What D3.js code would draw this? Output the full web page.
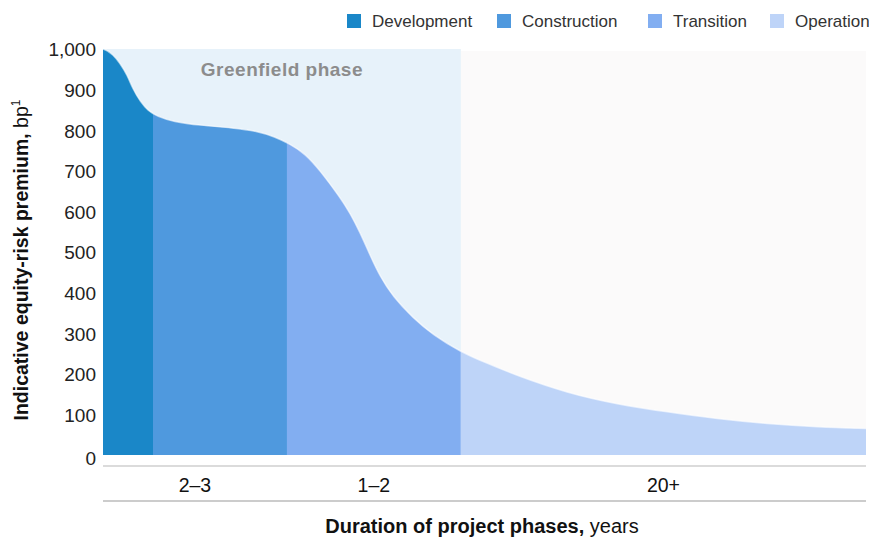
<!DOCTYPE html>
<html>
<head>
<meta charset="utf-8">
<script src="https://cdn.jsdelivr.net/npm/d3@7"></script>
<style>
  html, body { margin: 0; padding: 0; background: #ffffff; }
  svg { display: block; font-family: "Liberation Sans", Arial, Helvetica, sans-serif; }
</style>
</head>
<body>
<svg id="chart" width="869" height="540"></svg>
<script>
// ---------- data ----------
// position along the project timeline (share of chart width, 0–100)
const curveX = [0, 0.5, 1.3, 2.2, 3.2, 3.9, 4.9, 5.9, 7.1, 9.2, 12.7, 17.0, 20.2, 22.5, 24.5, 26.5, 28.4, 31.1, 32.4, 33.7, 35.0, 36.3, 38.0, 40.6, 43.3, 46.9, 49.8, 54.3, 60.8, 67.4, 73.9, 80.5, 87.0, 93.6, 100];
// indicative equity-risk premium, bp
const premium = [1000, 997, 986, 966, 935, 902, 870, 848, 834, 821, 812, 806, 798, 784, 766, 742, 702, 634, 595, 548, 492, 440, 390, 338, 295, 254, 230, 195, 153, 125, 106, 89, 77, 69, 65];

const phases = ["Development", "Construction", "Transition", "Operation"];
const phaseStart = [0, 6.55, 24.1, 46.9];
const phaseEnd = [6.55, 24.1, 46.9, 100];

const durationLabels = ["2–3", "1–2", "20+"];
const durationStart = [0, 24.1, 46.9];
const durationEnd = [24.1, 46.9, 100];

const yTicks = [0, 100, 200, 300, 400, 500, 600, 700, 800, 900, 1000];
const greenfieldLabel = "Greenfield phase";

// ---------- styles ----------
const phaseColors = ["#1a87c8", "#4f99de", "#82aef1", "#bed4f8"];

// ---------- layout ----------
const svg = d3.select("#chart");
const mLeft = 103, mRight = 866, mTop = 49, mBottom = 455;

const x = d3.scaleLinear().domain([0, 100]).range([mLeft, mRight]);
const y = d3.scaleLinear().domain([0, 1000]).range([mBottom, mTop]);

const pts = curveX.map((d, i) => ({ x: d, v: premium[i] }));

// backgrounds
svg.append("rect")
  .attr("x", x(phaseStart[3])).attr("y", mTop + 2)
  .attr("width", x(100) - x(phaseStart[3])).attr("height", mBottom - mTop - 2)
  .attr("fill", "#fbfafa");
svg.append("rect")
  .attr("x", x(0)).attr("y", mTop)
  .attr("width", x(phaseStart[3]) - x(0)).attr("height", mBottom - mTop)
  .attr("fill", "#e7f2fa");

// clip paths per phase
const defs = svg.append("defs");
phases.forEach((p, i) => {
  defs.append("clipPath").attr("id", "clip" + i)
    .append("rect")
    .attr("x", x(phaseStart[i])).attr("y", 0)
    .attr("width", x(phaseEnd[i]) - x(phaseStart[i]))
    .attr("height", 540);
});

const area = d3.area()
  .x(d => x(d.x))
  .y0(y(0))
  .y1(d => y(d.v))
  .curve(d3.curveBasis);

const line = d3.line()
  .x(d => x(d.x))
  .y(d => y(d.v))
  .curve(d3.curveBasis);

phases.forEach((p, i) => {
  svg.append("path")
    .datum(pts)
    .attr("clip-path", "url(#clip" + i + ")")
    .attr("d", area)
    .attr("fill", phaseColors[i]);
});

// subtle light edge along the curve
svg.append("path")
  .datum(pts)
  .attr("d", line)
  .attr("fill", "none")
  .attr("stroke", "#ffffff")
  .attr("stroke-opacity", 0.6)
  .attr("stroke-width", 1.5);

// greenfield label
svg.append("text")
  .attr("x", (x(0) + x(phaseStart[3])) / 2)
  .attr("y", 76)
  .attr("text-anchor", "middle")
  .attr("font-size", 19)
  .attr("font-weight", "bold")
  .attr("letter-spacing", 0.5)
  .attr("fill", "#8c8c8c")
  .text(greenfieldLabel);

// y axis
const yAxis = d3.axisLeft(y)
  .tickValues(yTicks)
  .tickSize(0)
  .tickPadding(7)
  .tickFormat(d3.format(","));
const gy = svg.append("g")
  .attr("transform", `translate(${mLeft},0)`)
  .call(yAxis);
gy.select(".domain").remove();
gy.selectAll("text")
  .attr("font-size", 19)
  .attr("fill", "#222")
  .attr("font-family", "'Liberation Sans', Arial, sans-serif")
  .attr("dy", "0.36em");
gy.selectAll(".tick").filter(d => d === 0).select("text").attr("dy", "0.5em");

// y axis title
const yt = svg.append("text")
  .attr("transform", `translate(28, ${(mTop + mBottom) / 2 + 8}) rotate(-90)`)
  .attr("text-anchor", "middle")
  .attr("font-size", 19.5)
  .attr("fill", "#111");
yt.append("tspan").attr("font-weight", "bold").text("Indicative equity-risk premium,");
yt.append("tspan").text(" bp");
yt.append("tspan").attr("font-size", 12).attr("dy", -8).text("1");

// bottom lines
svg.append("line")
  .attr("x1", mLeft).attr("x2", mRight)
  .attr("y1", 466).attr("y2", 466)
  .attr("stroke", "#b8b8b8").attr("stroke-width", 1.2);
svg.append("line")
  .attr("x1", mLeft).attr("x2", mRight)
  .attr("y1", 501).attr("y2", 501)
  .attr("stroke", "#9a9a9a").attr("stroke-width", 1.2);

// duration labels
durationLabels.forEach((lab, i) => {
  svg.append("text")
    .attr("x", x((durationStart[i] + durationEnd[i]) / 2))
    .attr("y", 492)
    .attr("text-anchor", "middle")
    .attr("font-size", 19.5)
    .attr("fill", "#111")
    .text(lab);
});

// x axis title
const xt = svg.append("text")
  .attr("x", 482)
  .attr("y", 533)
  .attr("text-anchor", "middle")
  .attr("font-size", 20)
  .attr("fill", "#111");
xt.append("tspan").attr("font-weight", "bold").text("Duration of project phases,");
xt.append("tspan").text(" years");

// legend
const legendX = [347, 497, 648, 770];
phases.forEach((p, i) => {
  svg.append("rect")
    .attr("x", legendX[i]).attr("y", 14)
    .attr("width", 14).attr("height", 14)
    .attr("fill", phaseColors[i]);
  svg.append("text")
    .attr("x", legendX[i] + 25)
    .attr("y", 27)
    .attr("font-size", 17)
    .attr("fill", "#333")
    .text(p);
});
</script>
</body>
</html>
